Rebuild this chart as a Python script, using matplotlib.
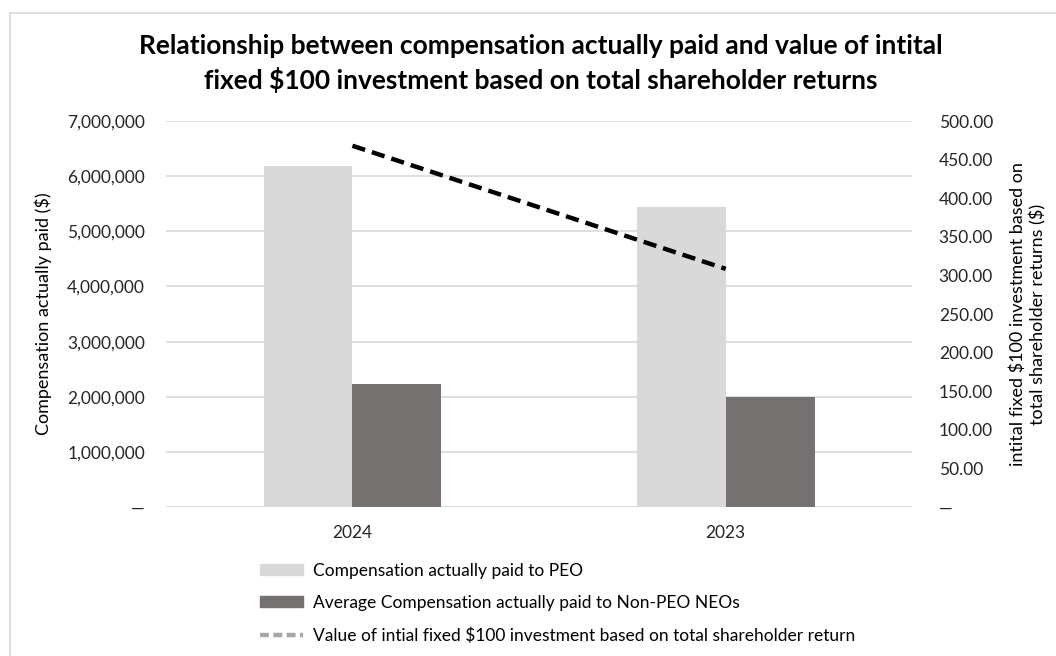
import numpy as np
import matplotlib
matplotlib.use("Agg")
import matplotlib.pyplot as plt
from matplotlib.lines import Line2D
from matplotlib.patches import Patch
from matplotlib.ticker import FuncFormatter

plt.rcParams['font.family'] = ['Lato', 'DejaVu Sans']

years = ["2024", "2023"]
peo_cap = [6180000, 5440000]
neo_cap = [2230000, 2000000]
tsr_value = [468.0, 308.5]

x = np.arange(len(years))
w = 0.238

fig = plt.figure(figsize=(10.56, 6.56), dpi=100)
ax = fig.add_axes([0.157, 0.227, 0.707, 0.5885])
ax2 = ax.twinx()

ax.bar(x - w / 2, peo_cap, w, color="#d9d9d9", zorder=2)
ax.bar(x + w / 2, neo_cap, w, color="#767171", zorder=2)
ax2.plot(x, tsr_value, color="black", lw=3.2, ls=(0, (3, 1.6)))

ax.set_xlim(-0.5, 1.5)
ax.set_ylim(0, 7000000)
ax2.set_ylim(0, 500)
ax.set_yticks(np.arange(0, 7000001, 1000000))
ax2.set_yticks(np.arange(0, 501, 50))
ax.yaxis.set_major_formatter(FuncFormatter(lambda v, p: "—" if v == 0 else f"{v:,.0f}"))
ax2.yaxis.set_major_formatter(FuncFormatter(lambda v, p: "—" if v == 0 else f"{v:.2f}"))
ax.set_xticks(x)
ax.set_xticklabels(years)

ax.grid(axis="y", color="#d9d9d9", lw=1.2, zorder=0)
ax.set_axisbelow(True)
for a in (ax, ax2):
    for s in a.spines.values():
        s.set_visible(False)
    a.tick_params(length=0, labelsize=12.5, colors="#262626")
ax.tick_params(axis="y", pad=15)
ax.tick_params(axis="x", pad=13)
ax2.tick_params(axis="y", pad=19)

ax.set_ylabel("Compensation actually paid ($)", fontsize=13, labelpad=11)
ax2.set_ylabel("intital fixed $100 investment based on\ntotal shareholder returns ($)", fontsize=13,
               rotation=90, labelpad=12)

fig.suptitle("Relationship between compensation actually paid and value of intital\n"
             "fixed $100 investment based on total shareholder returns",
             x=0.512, y=0.948, fontsize=19, fontweight="bold", linespacing=1.4)

handles = [Patch(color="#d9d9d9"), Patch(color="#767171"),
           Line2D([0], [0], color="#a6a6a6", lw=3.2, ls=(0, (2, 1)))]
labels = ["Compensation actually paid to PEO",
          "Average Compensation actually paid to Non-PEO NEOs",
          "Value of intial fixed $100 investment based on total shareholder return"]
fig.legend(handles, labels, loc="upper left", bbox_to_anchor=(0.231, 0.166),
           bbox_transform=fig.transFigure, frameon=False, fontsize=12.5,
           handlelength=2.5, handleheight=0.6, labelspacing=0.93, handletextpad=0.55)

# chart border
fig.add_artist(Line2D([10 / 1056, 10 / 1056], [0, 1 - 13 / 656], transform=fig.transFigure,
                      color="#d9d9d9", lw=1.2))
fig.add_artist(Line2D([10 / 1056, 1], [1 - 13 / 656, 1 - 13 / 656], transform=fig.transFigure,
                      color="#d9d9d9", lw=1.2))

fig.savefig("out.png", dpi=100)
